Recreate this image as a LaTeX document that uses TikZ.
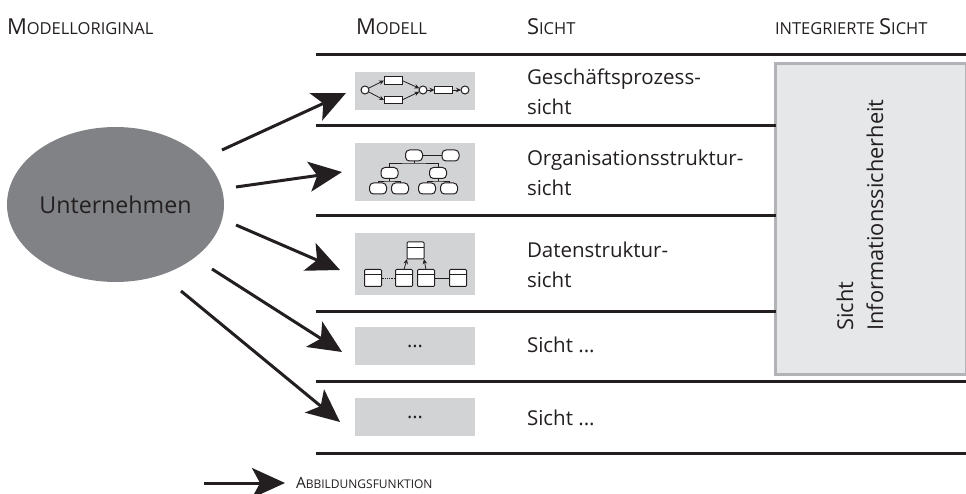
\documentclass[tikz,border=0pt]{standalone}
\usepackage{fontspec}
\setmainfont{Open Sans}
\usetikzlibrary{positioning}
\usetikzlibrary{arrows.meta}
\usetikzlibrary{shapes.geometric}
\usepackage{xcolor}
\definecolor{linecol}{HTML}{231F20}
\definecolor{ovalcol}{HTML}{808285}
\definecolor{iconcol}{HTML}{D1D3D4}
\definecolor{viewcol}{HTML}{E6E7E8}
\definecolor{viewline}{HTML}{B1B3B6}
\newcommand{\smallcap}[2]{#1{\fontsize{16.5}{18}\selectfont #2}}
\begin{document}
\begin{tikzpicture}[
		x=1pt, y=-1pt,
		every node/.style={inner sep=0pt, outer sep=0pt, text=linecol},
		rule/.style={draw=linecol, line width=3pt},
		maparrow/.style={draw=linecol, line width=3pt, -{Stealth[length=33pt, width=30pt, inset=8pt]}},
		headnode/.style={anchor=west, font=\fontsize{22}{24}\selectfont},
		viewnode/.style={anchor=west, align=left, font=\fontsize{20.5}{30}\selectfont},
		iconbox/.style={rectangle, fill=iconcol, minimum width=120pt, font=\fontsize{20}{22}\selectfont},
		placenode/.style={circle, draw=linecol, fill=white, line width=1pt, minimum size=8pt},
		transnode/.style={rectangle, draw=linecol, fill=white, line width=1pt, minimum width=18pt, minimum height=7.5pt},
		orgnode/.style={rectangle, rounded corners=4pt, draw=linecol, fill=white, line width=1pt, minimum width=17pt, minimum height=11pt},
		tablenode/.style={rectangle, rounded corners=1pt, draw=linecol, fill=white, line width=1pt, minimum width=17pt, minimum height=17pt},
		thin-link/.style={draw=linecol, line width=0.8pt},
		thin-arrow/.style={draw=linecol, line width=0.8pt, -{Stealth[length=5pt, width=4.5pt]}},
		]
		\useasboundingbox (0,0) rectangle (966,494);
		%Nodes
		\node[ellipse, fill=ovalcol, minimum width=217pt, minimum height=155pt, font=\fontsize{23.2}{28}\selectfont] (unternehmen) at (115.5,204.5) {Unternehmen};
		\node[headnode] (head-original) at (7,27) {\smallcap{M}{ODELLORIGINAL}};
		\node[headnode] (head-modell) at (356,27) {\smallcap{M}{ODELL}};
		\node[headnode] (head-sicht) at (527,27) {\smallcap{S}{ICHT}};
		\node[headnode] (head-integriert) at (775,27) {\smallcap{}{INTEGRIERTE }\smallcap{S}{ICHT}};
		
		\node[iconbox, minimum height=38pt] (icon-1) at (415,91) {};
		\node[iconbox, minimum height=58pt] (icon-2) at (415,172) {};
		\node[iconbox, minimum height=62pt] (icon-3) at (415,264) {};
		\node[iconbox, minimum height=38pt] (icon-4) at (415,346) {...};
		\node[iconbox, minimum height=38pt] (icon-5) at (415,417) {...};
		
		\node[viewnode] (view-1) at (527,92) {Geschäftsprozess-\\sicht};
		\node[viewnode] (view-2) at (527,173) {Organisationsstruktur-\\sicht};
		\node[viewnode] (view-3) at (527,265) {Datenstruktur-\\sicht};
		\node[viewnode] (view-4) at (527,345) {Sicht ...};
		\node[viewnode] (view-5) at (527,418) {Sicht ...};
		
		\node[rectangle, draw=viewline, fill=viewcol, line width=3pt, minimum width=191pt, minimum height=310pt] (view-box) at (871,219) {};
		\node[rotate=90, align=left, font=\fontsize{21.8}{30}\selectfont] (view-text) at (860,215) {Sicht\\Informationssicherheit};
		
		% Process icon
		\node[placenode] (p1) at (365,90) {};
		\node[transnode] (t1) at (393,80.5) {};
		\node[transnode] (t2) at (393,100) {};
		\node[placenode] (p2) at (423,90) {};
		\node[transnode] (t3) at (443.5,90) {};
		\node[placenode] (p3) at (465,90) {};
		\draw[thin-arrow] (p1) -- (t1.west);
		\draw[thin-arrow] (p1) -- (t2.west);
		\draw[thin-arrow] (t1.east) -- (p2);
		\draw[thin-arrow] (t2.east) -- (p2);
		\draw[thin-arrow] (p2) -- (t3);
		\draw[thin-arrow] (t3) -- (p3);
		
		% Organisation icon
		\node[orgnode] (o1) at (414,155.5) {};
		\node[orgnode] (o2) at (450.5,155.5) {};
		\node[orgnode] (o3) at (389.5,173) {};
		\node[orgnode] (o4) at (438,173) {};
		\node[orgnode] (o5) at (378,188.5) {};
		\node[orgnode] (o6) at (400,188.5) {};
		\node[orgnode] (o7) at (427,188.5) {};
		\node[orgnode] (o8) at (449,188.5) {};
		\draw[thin-link] (o1) -- (o2);
		\coordinate (bus-top) at (414,163);
		\coordinate (bus-left) at (389.5,181);
		\coordinate (bus-right) at (438,181);
		\draw[thin-link] (o1.south) -- (bus-top);
		\draw[thin-link] (o3.north) |- (bus-top) -| (o4.north);
		\draw[thin-link] (o5.north) |- (bus-left) -| (o6.north);
		\draw[thin-link] (o3.south) -- (bus-left);
		\draw[thin-link] (o7.north) |- (bus-right) -| (o8.north);
		\draw[thin-link] (o4.south) -- (bus-right);
		
		% Data icon
		\node[tablenode] (d1) at (415.5,250.5) {};
		\node[tablenode] (d2) at (373,278) {};
		\node[tablenode] (d3) at (404,278) {};
		\node[tablenode] (d4) at (426,278) {};
		\node[tablenode] (d5) at (458,278) {};
		\foreach \d in {d1,d2,d3,d4,d5}
			\draw[thin-link] ([yshift=3.5pt]\d.west) -- ([yshift=3.5pt]\d.east);
		\draw[thin-link, densely dotted] (d2) -- (d3);
		\draw[thin-link] (d4) -- (d5);
		\draw[thin-arrow] (d3.north) -- (d1.south west);
		\draw[thin-arrow] (d4.north) -- (d1.south east);
		
		% Legend
		\coordinate (legend-start) at (204,483);
		\coordinate (legend-end) at (285,483);
		\node[anchor=west] (legend) at (296,483) {\fontsize{15.5}{17}\selectfont A{\fontsize{12}{14}\selectfont BBILDUNGSFUNKTION}};
		
		%Lines
		\coordinate (rule-top) at (316,55);
		\coordinate (rule-1) at (316,126);
		\coordinate (rule-2) at (316,216);
		\coordinate (rule-3) at (316,311);
		\coordinate (rule-4) at (316,381);
		\coordinate (rule-5) at (316,453);
		\coordinate (rule-end) at (966,55);
		\draw[rule] (rule-top) -- (rule-end);
		\draw[rule] (rule-1) -- (rule-1 -| view-box.west);
		\draw[rule] (rule-2) -- (rule-2 -| view-box.west);
		\draw[rule] (rule-3) -- (rule-3 -| view-box.west);
		\draw[rule] (rule-4) -- (rule-4 -| rule-end);
		\draw[rule] (rule-5) -- (rule-5 -| rule-end);
		
		% Arrows
		\coordinate (from-1) at (222,150);
		\coordinate (from-2) at (236,187);
		\coordinate (from-3) at (236,225);
		\coordinate (from-4) at (212,269);
		\coordinate (from-5) at (181,291);
		\coordinate (to-1) at (346,93);
		\coordinate (to-2) at (342,172);
		\coordinate (to-3) at (340,270);
		\coordinate (to-4) at (342,352);
		\coordinate (to-5) at (340,422);
		\draw[maparrow] (from-1) -- (to-1);
		\draw[maparrow] (from-2) -- (to-2);
		\draw[maparrow] (from-3) -- (to-3);
		\draw[maparrow] (from-4) -- (to-4);
		\draw[maparrow] (from-5) -- (to-5);
		\draw[maparrow] (legend-start) -- (legend-end);
	\end{tikzpicture}
\end{document}
